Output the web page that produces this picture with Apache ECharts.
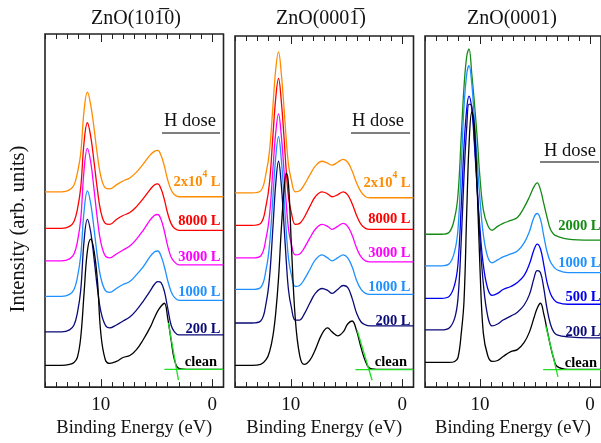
<!DOCTYPE html>
<html><head><meta charset="utf-8">
<script src="https://cdn.jsdelivr.net/npm/echarts@6/dist/echarts.min.js"></script>
<style>html,body{margin:0;padding:0;background:#fff}#c{width:601px;height:443px}</style>
</head><body><div id="c"></div><script>
// ---- Data (binding energy in eV, intensity in arb. units incl. vertical stacking offset) ----
const E1 = [15, 13.5, 12.8, 12.4, 12.1, 11.8, 11.5, 11.2, 10.9, 10.6, 10.3, 10.0, 9.6, 9.2, 8.6, 8.0, 7.4, 6.8, 6.2, 5.6, 5.2, 4.9, 4.6, 4.3, 4.0, 3.7, 3.4, 3.0, 2.0, 0, -1];
const p1_2e4  = [198,198,200,205,217,237,280,299,286,262,235,214,202,201,205,209,212,218,226,235,239,240,235,224,210,200,195,193,193,193,193];
const p1_8000 = [161,161,163,168,180,202,248,268,254,228,200,178,166,165,170,174,177,183,191,200,205,206,201,190,176,166,161,159,159,159,159];
const p1_3000 = [128,128,130,135,147,170,220,242,228,200,170,147,133,131,135,139,143,150,159,169,174,175,170,158,143,132,127,124,124,124,124];
const p1_1000 = [92,92,94,99,111,133,178,199,186,160,132,111,98,96,100,104,107,114,122,132,137,138,133,122,108,97,91,88,88,88,88];
const p1_200  = [56,56,58,63,75,98,148,170,157,130,100,77,63,60,63,67,71,78,87,97,104,107,106,97,80,63,56,53,53,53,53];
const p1_clean= [22,22,23,25,30,50,95,138,150,138,108,55,28,24,26,30,32,38,48,60,70,77,82,85,70,48,28,19,18,18,18];
const p1_fitBase = [[4.3,18],[-1,18]];
const p1_fitEdge = [[3.94,65],[3.04,7]];

const E2 = [15, 13.5, 12.7, 12.2, 11.9, 11.6, 11.35, 11.1, 10.85, 10.6, 10.4, 10.2, 9.95, 9.6, 9.2, 8.8, 8.3, 7.8, 7.2, 6.7, 6.3, 5.8, 5.3, 4.9, 4.5, 4.1, 3.7, 3.3, 2.9, 2, 0, -1];
const p2_2e4  = [197,197,199,218,240,285,322,340,318,282,250,225,210,198,199,205,215,224,229,227,225,228,231,228,219,207,198,193,192,192,192,192];
const p2_8000 = [164,164,166,185,208,255,293,313,290,252,218,192,177,165,166,172,183,193,198,196,193,195,198,195,186,174,165,161,160,160,160,160];
const p2_3000 = [131,131,133,152,175,221,258,277,255,218,185,160,145,134,135,141,151,160,165,163,160,163,166,163,154,141,132,128,127,127,127,127];
const p2_1000 = [99,99,101,120,145,193,233,254,231,191,157,130,114,102,103,109,119,129,134,131,128,131,134,131,122,108,99,95,94,94,94,94];
const p2_200  = [65,65,67,86,112,162,206,229,205,163,127,98,81,68,68,74,85,95,100,98,95,99,103,101,90,75,66,63,62,62,62,62];
const p2_clean= [22,22,23,28,36,52,75,110,160,200,217,205,145,70,32,23,27,38,54,60,56,52,56,64,67,57,40,26,19,18,18,18];
const p2_fitBase = [[4.21,17.7],[-1,17.7]];
const p2_fitEdge = [[4.06,58],[2.71,7]];

const E3 = [15, 13.5, 12.8, 12.3, 12.0, 11.7, 11.45, 11.2, 11.0, 10.75, 10.5, 10.25, 10.0, 9.7, 9.3, 8.9, 8.4, 7.9, 7.2, 6.6, 6.0, 5.5, 5.1, 4.8, 4.5, 4.2, 3.9, 3.6, 3.3, 3.0, 2.0, 0, -1];
const p3_2000 = [155,155,157,172,195,255,305,336,343,318,287,252,212,180,164,159,163,166,169,172,182,193,203,207,200,186,172,160,155,153,150,149,149];
const p3_1000 = [123,123,125,138,160,225,285,318,326,308,270,228,190,155,132,126,129,132,135,138,146,158,172,176,170,153,137,127,122,119,116,116,116];
const p3_500  = [90,90,92,104,125,185,245,283,295,282,245,200,160,124,100,93,95,99,102,106,113,125,139,145,140,124,106,95,89,86,84,84,84];
const p3_200  = [58,58,60,70,90,150,215,265,287,285,250,200,150,105,72,62,64,68,72,76,83,94,110,118,116,100,79,64,56,53,51,50,50];
const p3_clean= [25,25,25,26,30,55,88,180,245,279,262,200,120,55,32,26,27,31,36,38,45,56,70,80,85,74,58,42,29,21,18,18,18];
const p3_fitBase = [[4.26,17.7],[-1,17.7]];
const p3_fitEdge = [[4.02,62],[2.91,10.3]];

const titles = ['ZnO(10' + '1\u0305' + '0)', 'ZnO(000' + '1\u0305' + ')', 'ZnO(0001)'];
const tickValues = [0, 10];
const xName = 'Binding Energy (eV)';
const yName = 'Intensity (arb. units)';

// ---- Styling / layout ----
const C = {orange:'#FF8C00', red:'#FF0000', mag:'#FF00FF', dblue:'#1E90FF', navy:'#0A0A78', black:'#000000',
           green:'#158A15', blue:'#0000F0', fit:'#1EE01E'};
const SERIF = "'Liberation Serif','Times New Roman',serif";
const panels = [
  {left:45, top:34, E:E1, fit:[p1_fitBase,p1_fitEdge], titleX:136, hdose:{x:190,y:121,ul:[162,220,133]},
   curves:[['2e4',p1_2e4,C.orange,179.5],['8000 L',p1_8000,C.red,221],['3000 L',p1_3000,C.mag,257],['1000 L',p1_1000,C.dblue,292],['200 L',p1_200,C.navy,329],['clean',p1_clean,C.black,362]]},
  {left:235, top:36, E:E2, fit:[p2_fitBase,p2_fitEdge], titleX:321, hdose:{x:378,y:121,ul:[351,410,133]},
   curves:[['2e4',p2_2e4,C.orange,180.5],['8000 L',p2_8000,C.red,219],['3000 L',p2_3000,C.mag,253],['1000 L',p2_1000,C.dblue,287],['200 L',p2_200,C.navy,321],['clean',p2_clean,C.black,362]]},
  {left:425, top:36, E:E3, fit:[p3_fitBase,p3_fitEdge], titleX:512, hdose:{x:570,y:151,ul:[540,599,162]},
   curves:[['2000 L',p3_2000,C.green,226],['1000 L',p3_1000,C.dblue,263],['500 L',p3_500,C.blue,297],['200 L',p3_200,C.navy,332],['clean',p3_clean,C.black,363]]}
];
const W = 178.5, BOTTOM = 392;

const grid=[], xAxis=[], yAxis=[], series=[], graphic=[];
panels.forEach((p,i)=>{
  const h = BOTTOM - p.top;
  grid.push({left:p.left, top:p.top, width:W, height:h, show:true, borderColor:'#222', borderWidth:1.6, backgroundColor:'transparent'});
  const base = {type:'value', gridIndex:i, min:-1, max:15, inverse:true, interval:1, axisLine:{show:false}, splitLine:{show:false}};
  const tk = {lineStyle:{color:'#222', width:1}};
  xAxis.push(Object.assign({}, base, {position:'bottom', axisTick:Object.assign({inside:true,length:5},tk), axisLabel:{show:false}}));
  xAxis.push(Object.assign({}, base, {position:'bottom', axisTick:Object.assign({inside:true,length:8,customValues:tickValues},tk),
     axisLabel:{customValues:tickValues, fontSize:19, fontFamily:SERIF, color:'#111', margin:8},
     name:xName, nameLocation:'middle', nameGap:27, nameTextStyle:{fontSize:18.5, fontFamily:SERIF, color:'#111'}}));
  xAxis.push(Object.assign({}, base, {position:'top', axisTick:Object.assign({inside:true,length:5},tk), axisLabel:{show:false}}));
  xAxis.push(Object.assign({}, base, {position:'top', axisTick:Object.assign({inside:true,length:8,customValues:tickValues},tk), axisLabel:{show:false}}));
  yAxis.push({type:'value', gridIndex:i, min:0, max:h, show:false, splitLine:{show:false}});
  const R = p.left + W;
  p.curves.forEach(([lab, vals, col, ly])=>{
    series.push({type:'line', xAxisIndex:4*i, yAxisIndex:i, data:p.E.map((e,k)=>[e, vals[k]]),
      symbol:'none', smooth:0.4, silent:true, lineStyle:{color:col, width:1.3}});
    if (lab === '2e4') {
      graphic.push({type:'text', x:R-3, y:ly, style:{text:'{a|2x10}{s|4}{a| L}', align:'right', verticalAlign:'middle',
        rich:{a:{fontSize:14.5, fontWeight:'bold', fontFamily:SERIF, fill:col, lineHeight:20, verticalAlign:'bottom'},
              s:{fontSize:9.5, fontWeight:'bold', fontFamily:SERIF, fill:col, lineHeight:12, verticalAlign:'top'}}}});
    } else {
      graphic.push({type:'text', x: lab==='clean' ? R-6.5 : R-3, y:ly, style:{text:lab, align:'right', verticalAlign:'middle',
        fontSize:14.5, fontWeight:'bold', fontFamily:SERIF, fill:col}});
    }
  });
  p.fit.forEach(f=>series.push({type:'line', xAxisIndex:4*i, yAxisIndex:i, data:f, symbol:'none', silent:true, lineStyle:{color:C.fit, width:1.3}}));
  graphic.push({type:'text', x:p.titleX, y:19, style:{text:titles[i], align:'center', verticalAlign:'middle', fontSize:20, fontFamily:SERIF, fill:'#111'}});
  graphic.push({type:'text', x:p.hdose.x, y:p.hdose.y, style:{text:'H dose', align:'center', verticalAlign:'middle', fontSize:18.5, fontFamily:SERIF, fill:'#111'}});
  graphic.push({type:'line', shape:{x1:p.hdose.ul[0], y1:p.hdose.ul[2], x2:p.hdose.ul[1], y2:p.hdose.ul[2]}, style:{stroke:'#555', lineWidth:1.5}});
});
graphic.push({type:'text', x:19, y:229, rotation:Math.PI/2, style:{text:yName, align:'center', verticalAlign:'middle', fontSize:20.5, fontFamily:SERIF, fill:'#111'}});

const chart = echarts.init(document.getElementById('c'), null, {renderer:'canvas'});
chart.setOption({animation:false, backgroundColor:'#fff', grid, xAxis, yAxis, series, graphic});
</script></body></html>
